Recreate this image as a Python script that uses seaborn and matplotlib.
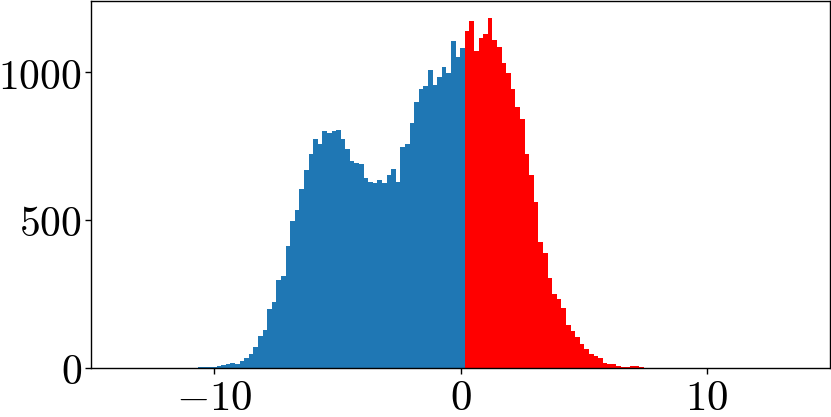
import numpy as np
import pandas as pd
import matplotlib
matplotlib.use("Agg")
import matplotlib.pyplot as plt
import seaborn as sns
from matplotlib.ticker import FuncFormatter, FixedLocator

# ---- data ----
bin_width = 0.1866
split_edge = 0.175          # boundary between the blue and the red bars

blue_counts = [3, 1, 3, 2, 5, 10, 12, 15, 12, 22, 32, 46, 69, 106, 126, 198, 221,
               297, 310, 413, 497, 535, 605, 669, 724, 776, 758, 801, 794, 803,
               806, 774, 742, 699, 694, 689, 642, 629, 624, 634, 624, 654, 674,
               630, 748, 757, 830, 901, 943, 953, 1007, 956, 985, 1018, 999,
               1106, 1054, 1084]
red_counts = [1142, 1174, 1071, 1117, 1132, 1183, 1110, 1085, 1032, 999, 943,
              882, 842, 725, 651, 561, 427, 388, 302, 250, 232, 202, 145, 123,
              103, 80, 62, 45, 39, 33, 15, 13, 11, 5, 1, 1, 5, 5, 3, 0]

x_ticks = [-10, 0, 10]
y_ticks = [0, 500, 1000]
x_limits = (-15, 15)

blue_color = "#1f77b4"
red_color = "#ff0000"

# ---- bins ----
nb, nr = len(blue_counts), len(red_counts)
blue_edges = [float(v) for v in split_edge - bin_width * np.arange(nb, -1, -1)]
red_edges = [float(v) for v in split_edge + bin_width * np.arange(0, nr + 1)]
blue_df = pd.DataFrame({"x": [(a + b) / 2 for a, b in zip(blue_edges[:-1], blue_edges[1:])],
                        "w": blue_counts})
red_df = pd.DataFrame({"x": [(a + b) / 2 for a, b in zip(red_edges[:-1], red_edges[1:])],
                       "w": red_counts})

plt.rcParams["mathtext.fontset"] = "cm"

fig = plt.figure(figsize=(8.31, 4.17), dpi=100)
ax = fig.add_axes([91 / 831, (417 - 367.5) / 417, 739 / 831, 366.5 / 417])

sns.histplot(data=blue_df, x="x", weights="w", bins=blue_edges, color=blue_color,
             alpha=1, linewidth=0, ax=ax)
sns.histplot(data=red_df, x="x", weights="w", bins=red_edges, color=red_color,
             alpha=1, linewidth=0, ax=ax)

ax.set_xlim(*x_limits)
ax.set_ylabel("")
ax.set_xlabel("")
ax.xaxis.set_major_locator(FixedLocator(x_ticks))
ax.yaxis.set_major_locator(FixedLocator(y_ticks))
fmt = FuncFormatter(lambda v, p: r"$%d$" % v)
ax.xaxis.set_major_formatter(fmt)
ax.yaxis.set_major_formatter(fmt)
ax.tick_params(axis="x", labelsize=31, length=4.5, width=1, pad=2.5)
ax.tick_params(axis="y", labelsize=30, length=4.5, width=1, pad=2)
for s in ax.spines.values():
    s.set_linewidth(1)
    s.set_color("black")

fig.savefig("out.png", dpi=100)
